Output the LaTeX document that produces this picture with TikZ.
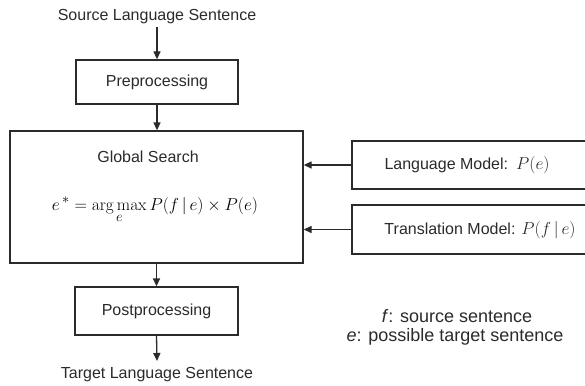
\documentclass[tikz,border=0pt]{standalone}
\usepackage[no-math]{fontspec}
\setmainfont{Liberation Sans}
\usetikzlibrary{arrows.meta}
\definecolor{ink}{HTML}{2B2B2B}
\tikzset{
  procbox/.style={draw=ink, line width=1.3pt, rectangle, inner sep=0pt},
  lbl/.style={text=ink, font=\fontsize{16}{19}\selectfont, inner sep=0pt},
  leg/.style={text=ink, font=\fontsize{18}{21}\selectfont, inner sep=0pt},
  flow/.style={draw=ink, line width=1.3pt, -{Triangle[length=8pt,width=7pt]}},
}
\begin{document}
\begin{tikzpicture}[x=1pt,y=-1pt]
\useasboundingbox (0,0) rectangle (585,385);
\fill[white] (0,0) rectangle (585,385);
\node[lbl] (src) at (157,17) {Source Language Sentence};
\node[procbox, minimum width=162pt, minimum height=44pt] (pre) at (157,82) {};
\node[lbl] (pret) at (157,82) {Preprocessing};
\node[procbox, minimum width=293pt, minimum height=132pt] (gs) at (156.5,197) {};
\node[lbl] (gst) at (148,157) {Global Search};
\node[text=black, inner sep=0pt, anchor=base, font=\fontsize{19}{22}\selectfont] (formula) at (155,210) {$e^{\,*}=\mathop{\mathrm{arg\,max}}\limits_{e}P(f\,|\,e)\times P(e)$};
\node[procbox, minimum width=163pt, minimum height=48pt] (post) at (156.5,311) {};
\node[lbl] (postt) at (156.5,311) {Postprocessing};
\node[lbl] (tgt) at (157,375) {Target Language Sentence};
\node[procbox, minimum width=250pt, minimum height=48pt] (lm) at (477,165) {};
\node[lbl] (lmt) at (467,165) {Language Model:\enspace$P(e)$};
\node[procbox, minimum width=250pt, minimum height=49pt] (tm) at (477,229.5) {};
\node[lbl] (tmt) at (480,230) {Translation Model: $P(f\,|\,e)$};
\node[leg] (leg1) at (457,316) {\textit{f}: source sentence};
\node[leg] (leg2) at (455,337) {\textit{e}: possible target sentence};
\coordinate (tgtin) at (157,361);
\draw[flow] (157,27) -- (pre.north);
\draw[flow] (pre.south) -- (gs.north -| pre.south);
\draw[flow] (gs.south -| post.north) -- (post.north);
\draw[flow] (post.south) -- (tgtin);
\draw[flow] (lm.west) -- (lm.west -| gs.east);
\draw[flow] (tm.west) -- (tm.west -| gs.east);
\end{tikzpicture}
\end{document}
